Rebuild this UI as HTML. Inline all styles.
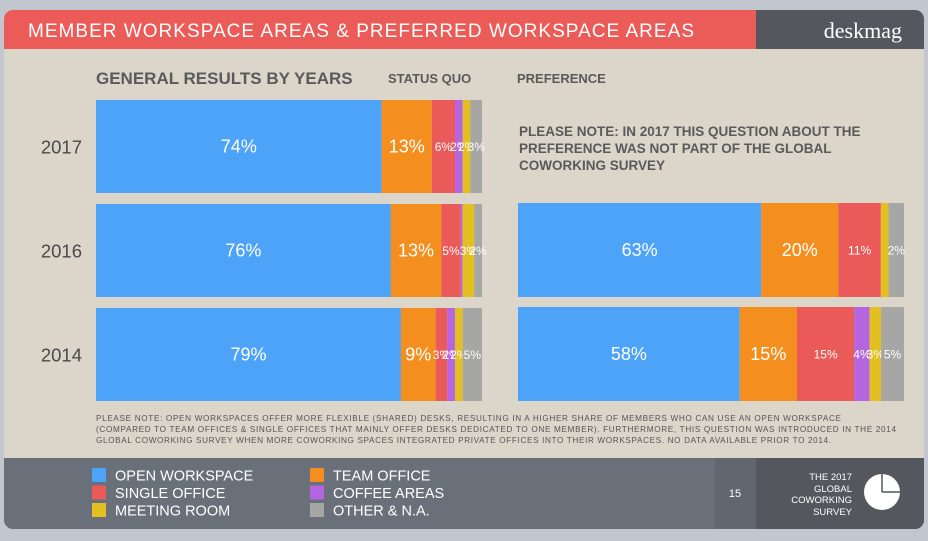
<!DOCTYPE html>
<html><head><meta charset="utf-8">
<style>
body{margin:0;background:#c2c6ce;width:928px;height:536px;overflow:hidden;font-family:"Liberation Sans",sans-serif;}
svg text{font-family:"Liberation Sans",sans-serif;}
</style></head>
<body>
<svg id="chart" width="928" height="536" viewBox="0 0 928 536">
 <defs><clipPath id="card"><rect x="4" y="10" width="920" height="519" rx="9"/></clipPath></defs>
 <g clip-path="url(#card)">
  <rect x="4" y="10" width="920" height="519" fill="#dbd5ca"/>
  <rect x="4" y="10" width="752" height="39" fill="#eb5c58"/>
  <rect x="756" y="10" width="168" height="39" fill="#54585e"/>
  <rect x="4" y="458" width="920" height="71" fill="#6a707a"/>
  <rect x="715" y="458" width="41" height="71" fill="#61666f"/>
  <rect x="756" y="458" width="168" height="71" fill="#54585e"/>
 </g>
 <text x="28" y="37" font-size="19" fill="#fff" textLength="666">MEMBER WORKSPACE AREAS &amp; PREFERRED WORKSPACE AREAS</text>
 <text x="902" y="38" font-size="22" fill="#fff" text-anchor="end" style="font-family:'Liberation Serif',serif">deskmag</text>
 <text x="96" y="84" font-size="17" font-weight="bold" fill="#5a5a5a">GENERAL RESULTS BY YEARS</text>
 <text x="388" y="83" font-size="13" font-weight="bold" fill="#5a5a5a">STATUS QUO</text>
 <text x="517" y="83" font-size="13" font-weight="bold" fill="#5a5a5a">PREFERENCE</text>
 <g font-size="13.5" font-weight="bold" fill="#5a5a5a">
  <text x="519" y="136">PLEASE NOTE: IN 2017 THIS QUESTION ABOUT THE</text>
  <text x="519" y="153">PREFERENCE WAS NOT PART OF THE GLOBAL</text>
  <text x="519" y="170">COWORKING SURVEY</text>
 </g>
 <g font-size="8.2" fill="#555">
  <text x="96" y="421" textLength="745">PLEASE NOTE: OPEN WORKSPACES OFFER MORE FLEXIBLE (SHARED) DESKS, RESULTING IN A HIGHER SHARE OF MEMBERS WHO CAN USE AN OPEN WORKSPACE</text>
  <text x="96" y="432" textLength="800">(COMPARED TO TEAM OFFICES &amp; SINGLE OFFICES THAT MAINLY OFFER DESKS DEDICATED TO ONE MEMBER). FURTHERMORE, THIS QUESTION WAS INTRODUCED IN THE 2014</text>
  <text x="96" y="443" textLength="735">GLOBAL COWORKING SURVEY WHEN MORE COWORKING SPACES INTEGRATED PRIVATE OFFICES INTO THEIR WORKSPACES. NO DATA AVAILABLE PRIOR TO 2014.</text>
 </g>
 <g id="legend"></g>
 <text x="735" y="497" font-size="11" fill="#fff" text-anchor="middle">15</text>
 <g font-size="9.5" fill="#fff" text-anchor="end">
  <text x="852" y="480">THE 2017</text><text x="852" y="492">GLOBAL</text><text x="852" y="503">COWORKING</text><text x="852" y="515">SURVEY</text>
 </g>
 <g>
  <circle cx="882" cy="492" r="18" fill="#fff"/>
  <path d="M882 492 L882 474" stroke="#54585e" stroke-width="1.5"/><path d="M882 492 L900 492" stroke="#54585e" stroke-width="1.5"/>
 </g>
 <g id="bars"></g>
</svg>
<script>
const categories = ["Open workspace","Team office","Single office","Coffee areas","Meeting room","Other & N.A."];
const colors = ["#4da3f7","#f48f1f","#ea5a58","#b466e0","#e3bf22","#a6a6a4"];
const years = ["2017","2016","2014"];
const statusQuo2017 = [74,13,6,2,2,3];
const statusQuo2016 = [76,13,5,0.5,3,2];
const statusQuo2014 = [79,9,3,2,2,5];
const statusLabels2017 = ["74%","13%","6%","2%","2%","3%"];
const statusLabels2016 = ["76%","13%","5%","","3%","2%"];
const statusLabels2014 = ["79%","9%","3%","2%","2%","5%"];
const preference2016 = [63,20,11,0,2,4];
const preference2014 = [58,15,15,4,3,6];
const prefLabels2016 = ["63%","20%","11%","","","2%"];
const prefLabels2014 = ["58%","15%","15%","4%","3%","5%"];

const NS="http://www.w3.org/2000/svg";
const g=document.getElementById('bars');
function mk(t,a){const e=document.createElementNS(NS,t);for(const k in a)e.setAttribute(k,a[k]);return e;}
function xScale(x0,w,total){return v=>x0+v/total*w;}
function drawBar(vals,labels,x0,w,y,h,name){
  const total=vals.reduce((a,b)=>a+b,0);
  const sx=xScale(x0,w,total);
  let acc=0;
  vals.forEach((v,i)=>{
    const xa=sx(acc),xb=sx(acc+v);acc+=v;
    if(v<=0)return;
    const r=mk('rect',{x:xa,y:y,width:xb-xa,height:h,fill:colors[i]});
    
    
    g.appendChild(r);
    if(labels[i]){
      const big=i<2;
      const t=mk('text',{x:(xa+xb)/2,y:y+h/2+(big?6:4.5),'font-size':big?18:12,fill:'#fff','text-anchor':'middle'});
      t.textContent=labels[i];
      
      
      g.appendChild(t);
    }
  });
}
const rowsY=[100,204,308], rowH=93;
years.forEach((yr,i)=>{
  const t=mk('text',{x:82,y:rowsY[i]+rowH/2+7,'font-size':18.5,fill:'#4a4a4a','text-anchor':'end'});
  t.textContent=yr;
  
  
  g.appendChild(t);
});
drawBar(statusQuo2017,statusLabels2017,96,386,rowsY[0],rowH,'status-2017');
drawBar(statusQuo2016,statusLabels2016,96,386,rowsY[1],rowH,'status-2016');
drawBar(statusQuo2014,statusLabels2014,96,386,rowsY[2],rowH,'status-2014');
drawBar(preference2016,prefLabels2016,518,386,rowsY[1]-1,rowH+1,'pref-2016');
drawBar(preference2014,prefLabels2014,518,386,rowsY[2]-1,rowH+1,'pref-2014');

const lg=document.getElementById('legend');
const legendNames=["OPEN WORKSPACE","TEAM OFFICE","SINGLE OFFICE","COFFEE AREAS","MEETING ROOM","OTHER & N.A."];
legendNames.forEach((n,i)=>{
  const col=i%2,row=Math.floor(i/2);
  const x=92+col*218,y=468+row*17.5;
  const r=mk('rect',{x:x,y:y,width:14,height:14,fill:colors[i]});
  
  
  lg.appendChild(r);
  const t=mk('text',{x:x+23,y:y+12.5,'font-size':14.5,fill:'#fff'});
  t.textContent=n;
  
  
  lg.appendChild(t);
});
</script>
</body></html>
